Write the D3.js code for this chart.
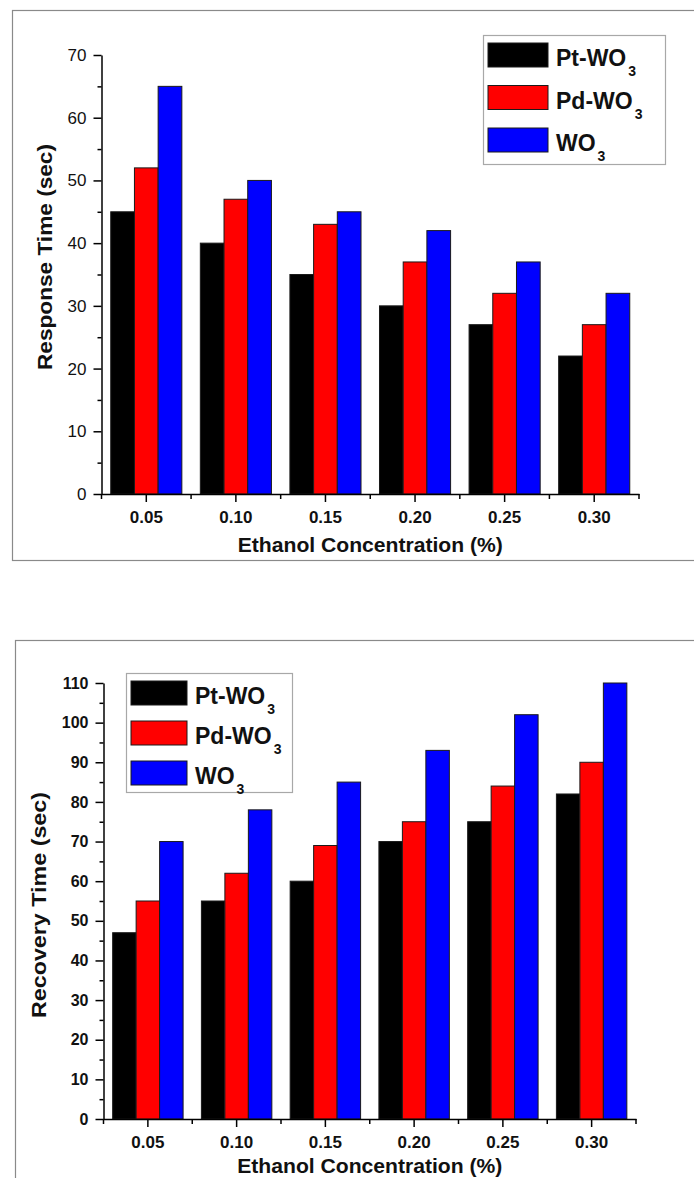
<!DOCTYPE html>
<html>
<head>
<meta charset="utf-8">
<script src="https://cdn.jsdelivr.net/npm/d3@7"></script>
<style>
  body { margin: 0; background: #fff; }
  svg { display: block; font-family: "Liberation Sans", Arial, sans-serif; }
</style>
</head>
<body>
<script>
// data
const concentrations = ["0.05", "0.10", "0.15", "0.20", "0.25", "0.30"];
const seriesNames = ["Pt-WO", "Pd-WO", "WO"];
const seriesColors = ["#000000", "#ff0000", "#0000ff"];

const responsePtWO3 = [45, 40, 35, 30, 27, 22];
const responsePdWO3 = [52, 47, 43, 37, 32, 27];
const responseWO3 = [65, 50, 45, 42, 37, 32];

const recoveryPtWO3 = [47, 55, 60, 70, 75, 82];
const recoveryPdWO3 = [55, 62, 69, 75, 84, 90];
const recoveryWO3 = [70, 78, 85, 93, 102, 110];

const responseTicks = [0, 10, 20, 30, 40, 50, 60, 70];
const recoveryTicks = [0, 10, 20, 30, 40, 50, 60, 70, 80, 90, 100, 110];

const svg = d3.select("body").append("svg")
  .attr("width", 694)
  .attr("height", 1178);

function drawPanel(p) {
  const g = svg.append("g");

  // outer frame (runs off the right edge)
  g.append("rect")
    .attr("x", p.frame[0] + 0.5).attr("y", p.frame[1] + 0.5)
    .attr("width", p.frame[2]).attr("height", p.frame[3])
    .attr("fill", "none").attr("stroke", "#8a8a8a").attr("stroke-width", 1.2);

  const x = d3.scaleBand().domain(concentrations).range([p.left, p.right]);
  const xInner = d3.scaleBand().domain(seriesNames).range([0, x.bandwidth()]).paddingOuter(0.39);
  const y = d3.scaleLinear().domain([0, p.yMax]).range([p.bottom, p.top]);

  const rows = concentrations.map((c, i) => ({
    c, vals: p.series.map((s, j) => ({ name: seriesNames[j], color: seriesColors[j], v: s[i] }))
  }));

  g.selectAll("g.grp").data(rows).enter().append("g")
    .attr("transform", d => `translate(${x(d.c)},0)`)
    .selectAll("rect").data(d => d.vals).enter().append("rect")
    .attr("x", d => xInner(d.name))
    .attr("y", d => y(d.v))
    .attr("width", xInner.bandwidth())
    .attr("height", d => y(0) - y(d.v))
    .attr("fill", d => d.color)
    .attr("stroke", "#1a1a1a")
    .attr("stroke-width", 1);

  // y axis, major + minor ticks
  const yAxis = g.append("g").attr("transform", `translate(${p.left},0)`)
    .call(d3.axisLeft(y).tickValues(p.yTicks).tickSize(8).tickSizeOuter(0).tickPadding(7));
  yAxis.selectAll("text")
    .style("font-size", p.yTickSize + "px")
    .style("font-weight", p.yTickWeight)
    .style("font-family", "'Liberation Sans', Arial, sans-serif")
    .attr("fill", "#111");
  g.append("g").attr("transform", `translate(${p.left},0)`)
    .call(d3.axisLeft(y).tickValues(p.yTicks.slice(1).map(t => t - 5)).tickSize(4).tickSizeOuter(0).tickFormat(""))
    .select(".domain").remove();

  // x axis, major ticks at centres, minor at band edges
  const xAxis = g.append("g").attr("transform", `translate(0,${p.bottom})`)
    .call(d3.axisBottom(x).tickSize(8).tickSizeOuter(0).tickPadding(9));
  xAxis.selectAll("text")
    .style("font-size", "17px")
    .style("font-weight", "bold")
    .style("font-family", "'Liberation Sans', Arial, sans-serif")
    .attr("fill", "#111");
  const edges = concentrations.map(c => x(c)).concat([x.range()[1]]);
  g.append("g").selectAll("line").data(edges).enter().append("line")
    .attr("x1", d => d).attr("x2", d => d)
    .attr("y1", p.bottom).attr("y2", p.bottom + 5)
    .attr("stroke", "#000").attr("stroke-width", 1.5);

  g.selectAll(".domain, .tick line").attr("stroke", "#000").attr("stroke-width", 1.5);

  // axis titles
  g.append("text")
    .attr("x", (p.left + p.right) / 2).attr("y", p.xTitleY)
    .attr("text-anchor", "middle")
    .attr("textLength", 265).attr("lengthAdjust", "spacingAndGlyphs")
    .style("font-size", "20px").style("font-weight", "bold").attr("fill", "#111")
    .text("Ethanol Concentration (%)");

  g.append("text")
    .attr("transform", `translate(${p.yTitleX},${p.yTitleY}) rotate(-90)`)
    .attr("text-anchor", "middle")
    .attr("dominant-baseline", "central")
    .attr("textLength", 226).attr("lengthAdjust", "spacingAndGlyphs")
    .style("font-size", "21px").style("font-weight", "bold").attr("fill", "#111")
    .text(p.yLabel);

  // legend
  const L = p.legend;
  g.append("rect")
    .attr("x", L.x + 0.5).attr("y", L.y + 0.5)
    .attr("width", L.w).attr("height", L.h)
    .attr("fill", "#fff").attr("stroke", "#a8a8a8").attr("stroke-width", 1.2);
  const items = g.selectAll("g.leg").data(seriesNames).enter().append("g")
    .attr("transform", (d, i) => `translate(${L.x + 5},${L.y + 8 + i * L.step})`);
  items.append("rect")
    .attr("width", L.sw).attr("height", 24)
    .attr("fill", (d, i) => seriesColors[i])
    .attr("stroke", "#1a1a1a").attr("stroke-width", 1);
  const t = items.append("text")
    .attr("x", L.sw + 8).attr("y", 23)
    .style("font-size", "23px").style("font-weight", "bold").attr("fill", "#111");
  t.append("tspan").text(d => d);
  t.append("tspan").attr("dx", 2).attr("dy", 10).style("font-size", "14px").text("3");
}

drawPanel({
  frame: [12, 10, 700, 550],
  left: 101.5, right: 639, top: 55, bottom: 494,
  yMax: 70, yTicks: responseTicks,
  yTickSize: 17, yTickWeight: "normal",
  series: [responsePtWO3, responsePdWO3, responseWO3],
  xTitleY: 552,
  yLabel: "Response Time (sec)", yTitleX: 44, yTitleY: 257,
  legend: { x: 483, y: 35, w: 182, h: 129, sw: 60, step: 42.5 }
});

drawPanel({
  frame: [15, 640, 700, 600],
  left: 103.5, right: 636, top: 683, bottom: 1119,
  yMax: 110, yTicks: recoveryTicks,
  yTickSize: 16, yTickWeight: "bold",
  series: [recoveryPtWO3, recoveryPdWO3, recoveryWO3],
  xTitleY: 1173,
  yLabel: "Recovery Time (sec)", yTitleX: 38, yTitleY: 905,
  legend: { x: 126, y: 673, w: 166, h: 119, sw: 56, step: 40 }
});
</script>
</body>
</html>
